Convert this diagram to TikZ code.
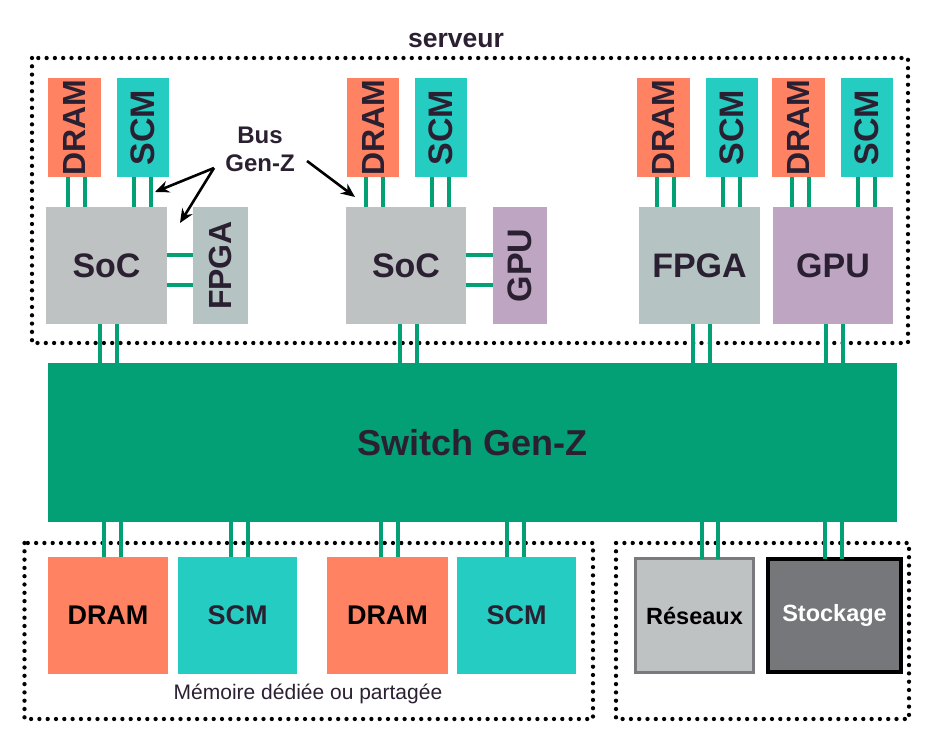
\documentclass[tikz,border=0pt]{standalone}
\usepackage{fontspec}
\setmainfont{Liberation Sans}
\usetikzlibrary{arrows.meta}
\definecolor{dramc}{HTML}{FF8263}
\definecolor{scmc}{HTML}{25CCC2}
\definecolor{socc}{HTML}{BFC2C2}
\definecolor{fpgac}{HTML}{B5C4C3}
\definecolor{gpuc}{HTML}{BEA6C3}
\definecolor{swc}{HTML}{03A075}
\definecolor{txt}{HTML}{2A2031}
\definecolor{resb}{HTML}{7A7A7E}
\definecolor{stoc}{HTML}{76777B}
\tikzset{
  box/.style={inner sep=0pt, outer sep=0pt, text=txt, font=\bfseries\fontsize{34}{40}\selectfont},
  dram/.style={box, fill=dramc},
  scm/.style={box, fill=scmc},
  soc/.style={box, fill=socc},
  fpga/.style={box, fill=fpgac},
  gpu/.style={box, fill=gpuc},
  vmem/.style={minimum width=52pt, minimum height=99pt},
  bus/.style={draw=swc, line width=4.5pt},
  dotbox/.style={draw=black, line width=4.3pt, line cap=round, dash pattern=on 0pt off 8.3pt},
  arr/.style={draw=black, line width=2.6pt, -{Stealth[length=14pt,width=12pt]}},
}
% vertical bus pair: #1 upper node, #2 lower node, #3 #4 x offsets
\newcommand{\vbus}[4]{%
  \draw[bus] ([xshift=#3pt]#1.south) -- ([xshift=#3pt]#1.south |- #2.north);
  \draw[bus] ([xshift=#4pt]#1.south) -- ([xshift=#4pt]#1.south |- #2.north);}
\newcommand{\ubus}[4]{%
  \draw[bus] ([xshift=#3pt]#1.north) -- ([xshift=#3pt]#1.north |- #2.south);
  \draw[bus] ([xshift=#4pt]#1.north) -- ([xshift=#4pt]#1.north |- #2.south);}
\newcommand{\hbus}[2]{%
  \draw[bus] ([yshift=10.5pt]#1.east) -- ([yshift=10.5pt]#1.east -| #2.west);
  \draw[bus] ([yshift=-19.5pt]#1.east) -- ([yshift=-19.5pt]#1.east -| #2.west);}
\begin{document}
\begin{tikzpicture}[x=1pt,y=-1pt]
\useasboundingbox (0,0) rectangle (946,751);

% dotted frames
\draw[dotbox] (32,58) rectangle (908,343);
\draw[dotbox] (24.5,543) rectangle (593,719);
\draw[dotbox] (616,543) rectangle (909,719);

\node[font=\bfseries\fontsize{26.5}{30}\selectfont, text=txt] (serveur) at (456,40) {serveur};

% top-left group
\node[dram, vmem, minimum width=53pt] (dramA) at (74.5,127.5) {\rotatebox{90}{\fontsize{32}{36}\selectfont DRAM}};
\node[scm, vmem] (scmA) at (143,127.5) {\rotatebox{90}{SCM}};
\node[soc, minimum width=121pt, minimum height=117pt] (socA) at (106.5,265.5) {SoC};
\node[fpga, minimum width=55pt, minimum height=117pt] (fpgaA) at (220.5,265.5) {\rotatebox{90}{\fontsize{32}{36}\selectfont FPGA}};

% middle group
\node[dram, vmem] (dramB) at (373,127.5) {\rotatebox{90}{\fontsize{32}{36}\selectfont DRAM}};
\node[scm, vmem] (scmB) at (441,127.5) {\rotatebox{90}{SCM}};
\node[soc, minimum width=120pt, minimum height=117pt] (socB) at (406,265.5) {SoC};
\node[gpu, minimum width=54pt, minimum height=117pt] (gpuB) at (520,265.5) {\rotatebox{90}{GPU}};

% right group
\node[dram, vmem, minimum width=53pt] (dramC) at (663.5,127.5) {\rotatebox{90}{\fontsize{32}{36}\selectfont DRAM}};
\node[scm, vmem] (scmC) at (732,127.5) {\rotatebox{90}{SCM}};
\node[dram, vmem, minimum width=53pt] (dramD) at (798.5,127.5) {\rotatebox{90}{\fontsize{32}{36}\selectfont DRAM}};
\node[scm, vmem] (scmD) at (867,127.5) {\rotatebox{90}{SCM}};
\node[fpga, minimum width=121pt, minimum height=117pt] (fpgaC) at (699.5,265.5) {FPGA};
\node[gpu, minimum width=120pt, minimum height=117pt] (gpuD) at (833,265.5) {GPU};

% switch
\node[box, fill=swc, minimum width=849pt, minimum height=159pt, font=\bfseries\fontsize{36}{40}\selectfont] (sw) at (472.5,442.5) {Switch Gen-Z};

% bottom memory
\node[dram, minimum width=120pt, minimum height=117pt, text=black, font=\bfseries\fontsize{27}{30}\selectfont] (dramE) at (108,615.5) {DRAM};
\node[scm, minimum width=119pt, minimum height=117pt, font=\bfseries\fontsize{27}{30}\selectfont] (scmE) at (237.5,615.5) {SCM};
\node[dram, minimum width=121pt, minimum height=117pt, text=black, font=\bfseries\fontsize{27}{30}\selectfont] (dramF) at (387.5,615.5) {DRAM};
\node[scm, minimum width=119pt, minimum height=117pt, font=\bfseries\fontsize{27}{30}\selectfont] (scmF) at (516.5,615.5) {SCM};
\node[font=\fontsize{21}{24}\selectfont, text=txt] (memlbl) at (308,694) {Mémoire dédiée ou partagée};

% network / storage
\node[box, fill=socc, draw=resb, line width=3pt, minimum width=118pt, minimum height=114pt, text=black, font=\bfseries\fontsize{23.5}{28}\selectfont] (res) at (694.5,615.5) {Réseaux};
\node[box, fill=stoc, draw=black, line width=4pt, minimum width=133pt, minimum height=113pt, text=white, font=\bfseries\fontsize{23.5}{28}\selectfont] (sto) at (834.5,615.5) {Stockage};

% buses: memories to processors
\vbus{dramA}{socA}{-6.5}{10.5}
\vbus{scmA}{socA}{-9}{8}
\vbus{dramB}{socB}{-7}{10}
\vbus{scmB}{socB}{-9}{8}
\vbus{dramC}{fpgaC}{-6.5}{10.5}
\vbus{scmC}{fpgaC}{-9}{8}
\vbus{dramD}{gpuD}{-6.5}{10.5}
\vbus{scmD}{gpuD}{-9}{8}
\hbus{socA}{fpgaA}
\hbus{socB}{gpuB}
% processors to switch
\vbus{socA}{sw}{-6.5}{10.5}
\vbus{socB}{sw}{-6}{11}
\vbus{fpgaC}{sw}{-6.5}{10.5}
\vbus{gpuD}{sw}{-7}{10}
% switch to bottom devices
\ubus{dramE}{sw}{-4}{13}
\ubus{scmE}{sw}{-6.5}{10.5}
\ubus{dramF}{sw}{-6.5}{10.5}
\ubus{scmF}{sw}{-9.5}{7.5}
\ubus{res}{sw}{7.5}{23.5}
\ubus{sto}{sw}{-9.5}{7.5}

% Bus Gen-Z label and arrows
\node[font=\bfseries\fontsize{24}{28}\selectfont, text=txt, align=center] (buslbl) at (260,149) {Bus\\Gen-Z};
\coordinate (busfrom) at (214,168);
\coordinate (tipA) at (155,192);
\coordinate (tipB) at (180,223);
\coordinate (busfrom2) at (307,161);
\coordinate (tipC) at (355,197);
\draw[arr] (busfrom) -- (tipA);
\draw[arr] (busfrom) -- (tipB);
\draw[arr] (busfrom2) -- (tipC);
\end{tikzpicture}
\end{document}
